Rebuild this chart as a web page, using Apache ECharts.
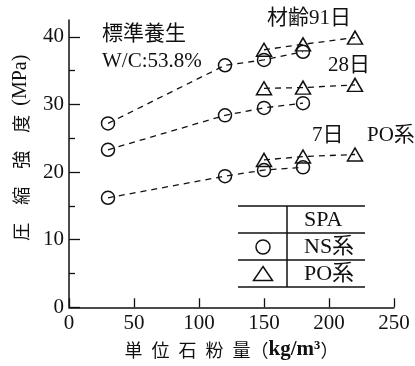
<!DOCTYPE html>
<html>
<head>
<meta charset="utf-8">
<script src="https://cdn.jsdelivr.net/npm/echarts@6/dist/echarts.min.js"></script>
<style>
  html, body { margin: 0; padding: 0; background: #fff; }
  #chart { width: 415px; height: 366px; }
</style>
</head>
<body>
<div id="chart"></div>
<script>
// Axis ticks
const xTicks = [0, 50, 100, 150, 200, 250];
const yTicks = [0, 10, 20, 30, 40];
const yMinorTicks = [5, 15, 25, 35];

// Unit stone-powder content (kg/m3) for each admixture type
const nsDosage = [30, 120, 150, 180];
const poDosage = [150, 180, 220];

// Compressive strength (MPa) by age
const ns91 = [27.2, 35.8, 36.6, 37.8];
const po91 = [38.1, 38.9, 39.9];
const ns28 = [23.3, 28.4, 29.5, 30.2];
const po28 = [32.4, 32.5, 32.9];
const ns7 = [16.2, 19.4, 20.3, 20.7];
const po7 = [21.8, 22.3, 22.6];

const INK = '#111';
const SERIF = '"Liberation Serif", "Noto Sans CJK JP", serif';
const CJK = '"Noto Sans CJK JP", sans-serif';

const pairs = (xs, ys) => xs.map((x, i) => [x, ys[i]]);

function strengthLine(name, xs, ys, symbol) {
  return {
    name: name,
    type: 'line',
    data: pairs(xs, ys),
    symbol: symbol,
    symbolSize: symbol === 'circle' ? 13 : [15, 13],
    showSymbol: true,
    lineStyle: { color: INK, width: 1.3, type: [6, 5] },
    itemStyle: { color: 'rgba(0,0,0,0)', borderColor: INK, borderWidth: 1.5 },
    emphasis: { disabled: true },
    animation: false
  };
}

function label(x, y, text, size) {
  return {
    type: 'text', x: x, y: y,
    style: {
      text: text, fill: INK, align: 'left', verticalAlign: 'middle',
      font: (size || 21) + 'px ' + SERIF
    }
  };
}

function rule(x1, y1, x2, y2) {
  return {
    type: 'line',
    shape: { x1: x1, y1: y1, x2: x2, y2: y2 },
    style: { stroke: INK, lineWidth: 1.5 }
  };
}

// rich text pieces for the axis titles
const titleRich = {
  c: { fontFamily: CJK, fontSize: 18, color: INK },
  u: { fontFamily: SERIF, fontSize: 21, fontWeight: 'bold', color: INK },
  m: { fontFamily: SERIF, fontSize: 20, color: INK }
};

const chart = echarts.init(document.getElementById('chart'), null, { renderer: 'canvas' });

chart.setOption({
  backgroundColor: '#fff',
  animation: false,
  grid: { left: 69, right: 21, top: 20, bottom: 58.7 },
  xAxis: {
    type: 'value',
    min: xTicks[0],
    max: xTicks[xTicks.length - 1],
    interval: 50,
    axisLine: { lineStyle: { color: INK, width: 1.5 } },
    axisTick: { inside: true, length: 9, lineStyle: { color: INK, width: 1.3 } },
    axisLabel: { color: INK, fontFamily: SERIF, fontSize: 21, margin: 6 },
    splitLine: { show: false },
    name: '{c|単\u2002位\u2002石\u2002粉\u2002量（}{u|kg/m³}{c|）}',
    nameLocation: 'middle',
    nameGap: 29,
    nameTextStyle: { rich: titleRich }
  },
  yAxis: [
    {
      type: 'value',
      min: 0,
      max: 42.5,
      axisLine: { show: true, lineStyle: { color: INK, width: 1.5 } },
      axisTick: { show: true, inside: true, length: 11, customValues: yTicks, lineStyle: { color: INK, width: 1.3 } },
      axisLabel: { color: INK, fontFamily: SERIF, fontSize: 21, margin: 5, customValues: yTicks },
      splitLine: { show: false },
      name: '{c|圧\u2003縮\u2003強\u2003度\u2002}{m|(MPa)}',
      nameLocation: 'middle',
      nameRotate: 90,
      nameGap: 38,
      nameTextStyle: { rich: titleRich, padding: [0, 0, 0, 32] }
    },
    {
      type: 'value',
      min: 0,
      max: 42.5,
      position: 'left',
      axisLine: { show: false },
      axisTick: { show: true, inside: true, length: 6, customValues: yMinorTicks, lineStyle: { color: INK, width: 1.3 } },
      axisLabel: { show: false },
      splitLine: { show: false }
    }
  ],
  series: [
    strengthLine('NS系 91日', nsDosage, ns91, 'circle'),
    strengthLine('PO系 91日', poDosage, po91, 'triangle'),
    strengthLine('NS系 28日', nsDosage, ns28, 'circle'),
    strengthLine('PO系 28日', poDosage, po28, 'triangle'),
    strengthLine('NS系 7日', nsDosage, ns7, 'circle'),
    strengthLine('PO系 7日', poDosage, po7, 'triangle')
  ],
  graphic: [
    // curing condition note
    label(102, 34, '標準養生'),
    label(102, 61, 'W/C:53.8%'),
    // age labels
    label(267, 18, '材齢91日'),
    label(328, 65, '28日'),
    label(312, 135, '7日'),
    label(367, 135, 'PO系'),
    // symbol key table
    rule(238, 206, 365, 206),
    rule(238, 233, 365, 233),
    rule(238, 260, 365, 260),
    rule(238, 287, 365, 287),
    rule(287, 206, 287, 287),
    label(304, 220, 'SPA', 22),
    label(304, 247, 'NS系', 22),
    label(304, 274, 'PO系', 22),
    {
      type: 'circle',
      shape: { cx: 263, cy: 247, r: 7 },
      style: { fill: 'none', stroke: INK, lineWidth: 1.5 }
    },
    {
      type: 'polygon',
      shape: { points: [[263, 266.5], [272.5, 280.5], [253.5, 280.5]] },
      style: { fill: 'none', stroke: INK, lineWidth: 1.5 }
    }
  ]
});
</script>
</body>
</html>
